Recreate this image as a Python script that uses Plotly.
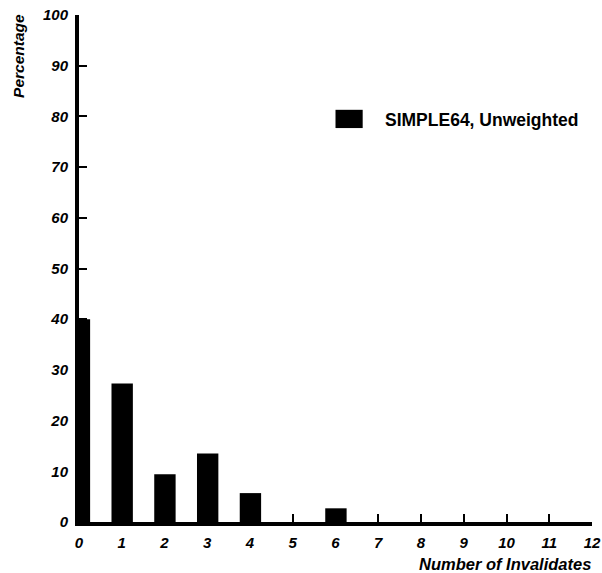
import plotly.graph_objects as go

invalidates = [0, 1, 2, 3, 4, 5, 6]
percentage = [40.0, 27.3, 9.4, 13.5, 5.7, 0.0, 2.7]
series_name = "SIMPLE64, Unweighted"
x_ticks = list(range(0, 13))
y_ticks = list(range(0, 101, 10))

FONT = "Liberation Sans, Arial, sans-serif"
tick_font = dict(family=FONT, size=15, color="black", weight="bold", style="italic")

fig = go.Figure()
fig.add_trace(go.Bar(
    x=invalidates, y=percentage, name=series_name,
    width=0.5, offset=-0.24,
    marker=dict(color="black", line=dict(width=0)),
    showlegend=False,
))

axis_common = dict(
    showgrid=False, zeroline=False, showline=True,
    linecolor="black", linewidth=4,
    ticks="inside", ticklen=8, tickwidth=2, tickcolor="black",
    tickfont=tick_font, ticklabeloverflow="allow", automargin=False,
    ticklabelstandoff=4,
)

fig.update_layout(
    width=602, height=573,
    margin=dict(l=79, r=10, t=15, b=51),
    paper_bgcolor="white", plot_bgcolor="white",
    showlegend=False,
    xaxis=dict(range=[0, 12], tickmode="array", tickvals=x_ticks,
               ticktext=[str(v) for v in x_ticks], **axis_common),
    yaxis=dict(range=[0, 100], tickmode="array", tickvals=y_ticks,
               ticktext=[str(v) for v in y_ticks], **axis_common),
    shapes=[
        dict(type="rect", xref="paper", yref="paper",
             x0=0.500, x1=0.553, y0=0.777, y1=0.813,
             fillcolor="black", line=dict(width=0)),
    ],
    annotations=[
        dict(text=series_name, xref="paper", yref="paper",
             x=0.593, y=0.793, xanchor="left", yanchor="middle", showarrow=False,
             font=dict(family=FONT, size=17.5, color="black", weight="bold")),
        dict(text="Number of Invalidates", xref="paper", yref="paper",
             x=1.002, y=-0.062, xanchor="right", yanchor="top", showarrow=False,
             font=dict(family=FONT, size=16.5, color="black", weight="bold", style="italic")),
        dict(text="Percentage", xref="paper", yref="paper",
             x=-0.117, y=1.006, xanchor="center", yanchor="top", showarrow=False,
             textangle=-90,
             font=dict(family=FONT, size=15.5, color="black", weight="bold", style="italic")),
    ],
)

fig.write_html("out.html", config={"displayModeBar": False},
               post_script="document.body.style.margin='0';")
